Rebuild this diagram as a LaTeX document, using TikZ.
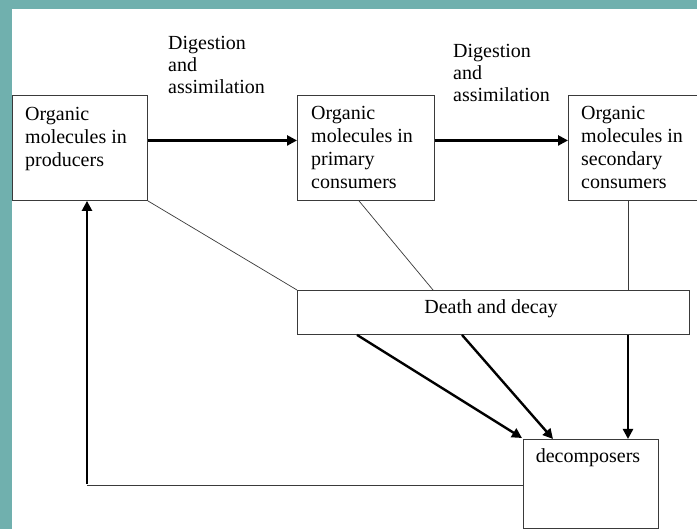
\documentclass[tikz,border=0pt]{standalone}
\usepackage{fontspec}
\setmainfont{Liberation Serif}
\usetikzlibrary{arrows.meta}
\definecolor{tealbg}{HTML}{70B0AE}
\definecolor{boxline}{HTML}{3A3A3A}
\begin{document}
\begin{tikzpicture}[x=1pt,y=-1pt,
  box/.style={draw=boxline, line width=0.9pt, inner sep=0pt, anchor=north west},
  txt/.style={font=\fontsize{20}{23}\selectfont, align=left, inner sep=0pt, anchor=north west},
  lbl/.style={font=\fontsize{20}{22}\selectfont, align=left, inner sep=0pt, anchor=north west},
  bigarrow/.style={line width=2.4pt, draw=black, -{Triangle[length=10pt,width=10pt]}},
  thinline/.style={line width=0.7pt, draw=boxline}]
\useasboundingbox (0,0) rectangle (697,529);
\clip (0,0) rectangle (697,529);
\fill[white] (0,0) rectangle (697,529);
\fill[tealbg] (0,0) rectangle (697,9);
\fill[tealbg] (0,0) rectangle (12,529);

% boxes
\node[box, minimum width=135pt, minimum height=105pt] (prod) at (12,95) {};
\node[box, minimum width=137pt, minimum height=105pt] (prim) at (297,95) {};
\node[box, minimum width=140pt, minimum height=105pt] (sec) at (568,95) {};
\node[box, minimum width=392pt, minimum height=44pt, font=\fontsize{20}{23}\selectfont] (death) at (297,290) {};
\node[font=\fontsize{20}{23}\selectfont, inner sep=0pt, anchor=base] (deathtxt) at (491,314) {Death and decay};
\node[box, minimum width=135pt, minimum height=89pt] (decomp) at (523,439) {};

% box texts
\node[txt] (prodtxt) at (25,107) {Organic\\molecules in\\producers};
\node[txt] (primtxt) at (311,106) {Organic\\molecules in\\primary\\consumers};
\node[txt] (sectxt) at (581,106) {Organic\\molecules in\\secondary\\consumers};
\node[font=\fontsize{20}{23}\selectfont, inner sep=0pt, anchor=base] (decomptxt) at (588,463) {decomposers};

% labels
\node[lbl] (lab1) at (168,36) {Digestion\\and\\assimilation};
\node[lbl] (lab2) at (453,44) {Digestion\\and\\assimilation};

% horizontal arrows
\draw[bigarrow] ([yshift=7.5pt]prod.east) -- ([yshift=7.5pt]prim.west);
\draw[bigarrow] ([yshift=7.5pt]prim.east) -- ([yshift=7.5pt]sec.west);

% thin lines to death and decay
\draw[thinline] (prod.south east) -- (death.north west);
\draw[thinline] ([xshift=62pt]prim.south west) -- ([xshift=136pt]death.north west);
\draw[thinline] ([xshift=60pt]sec.south west) -- ([xshift=60pt]sec.south west |- death.north);

% arrows to decomposers
\draw[bigarrow] ([xshift=60pt]death.south west) -- ([xshift=-1pt,yshift=1pt]decomp.north west);
\draw[bigarrow] ([xshift=165pt]death.south west) -- ([xshift=30pt]decomp.north west);
\draw[bigarrow] ([xshift=60pt]sec.south west |- death.south) -- ([xshift=60pt]sec.south west |- decomp.north);

% return path
\coordinate (corner) at (87,485);
\draw[thinline] (decomp.west |- corner) -- (corner);
\draw[bigarrow] ([yshift=1pt]corner) -- (corner |- prod.south);
\end{tikzpicture}
\end{document}
